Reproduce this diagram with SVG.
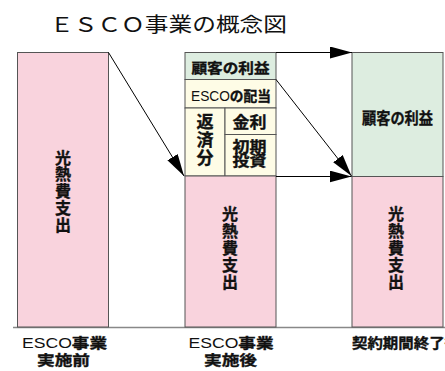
<svg xmlns="http://www.w3.org/2000/svg" width="445" height="371" viewBox="0 0 445 371">
<defs>
<marker id="ah" markerUnits="userSpaceOnUse" markerWidth="24" markerHeight="14" refX="22" refY="6" orient="auto">
<path d="M0,0 L22,6 L0,12 z" fill="#000"/>
</marker>
</defs>
<style>
.box{stroke:#555;stroke-width:1}
.pink{fill:#F9D3DD}
.green{fill:#DDEDE0}
.cream{fill:#FEFCE6}
.cjk{font-family:"Noto Sans CJK JP","Liberation Sans",sans-serif;fill:#111}
.b{font-weight:bold;stroke:#111;stroke-width:0.35}
.lat{font-family:"Liberation Sans","Noto Sans CJK JP",sans-serif;font-weight:normal;stroke:none}
.conn{stroke:#000;stroke-width:1;fill:none;marker-end:url(#ah)}
</style>
<rect width="445" height="371" fill="#fff"/>
<text class="cjk" x="50" y="32" font-size="20" textLength="237" lengthAdjust="spacingAndGlyphs">ＥＳＣＯ事業の概念図</text>

<g id="baseline">
<line x1="13" y1="327.5" x2="445" y2="327.5" stroke="#888" stroke-width="1.5"/>
</g>

<g id="before">
<rect class="box pink" x="17.5" y="52.5" width="91" height="274.5"/>
<text class="cjk b" font-size="16" text-anchor="middle"><tspan x="63" y="163.5">光</tspan><tspan x="63" dy="16.9">熱</tspan><tspan x="63" dy="16.9">費</tspan><tspan x="63" dy="16.9">支</tspan><tspan x="63" dy="16.9">出</tspan></text>
<text class="cjk b" x="22" y="348" font-size="14" textLength="85" lengthAdjust="spacingAndGlyphs"><tspan class="lat">ESCO</tspan>事業</text>
<text class="cjk b" x="37" y="365" font-size="14" textLength="53" lengthAdjust="spacingAndGlyphs">実施前</text>
</g>

<g id="after">
<rect class="box green" x="185" y="52.5" width="91" height="27"/>
<rect class="box cream" x="185" y="79.5" width="91" height="28.5"/>
<rect class="box cream" x="185" y="108" width="40" height="68"/>
<rect class="box cream" x="225" y="108" width="51" height="26.5"/>
<rect class="box cream" x="225" y="134.5" width="51" height="41.5"/>
<rect class="box pink" x="185" y="176" width="91" height="151"/>
<text class="cjk b" x="191.5" y="73" font-size="14" textLength="78" lengthAdjust="spacingAndGlyphs">顧客の利益</text>
<text class="cjk b" x="191" y="101" font-size="14" textLength="80" lengthAdjust="spacingAndGlyphs"><tspan class="lat">ESCO</tspan>の配当</text>
<text class="cjk b" font-size="17" text-anchor="middle"><tspan x="205" y="128">返</tspan><tspan x="205" dy="18">済</tspan><tspan x="205" dy="18">分</tspan></text>
<text class="cjk b" x="232.5" y="127.5" font-size="16" textLength="34" lengthAdjust="spacingAndGlyphs">金利</text>
<text class="cjk b" x="232.5" y="151.5" font-size="15" textLength="34" lengthAdjust="spacingAndGlyphs">初期</text>
<text class="cjk b" x="232.5" y="166" font-size="15" textLength="34" lengthAdjust="spacingAndGlyphs">投資</text>
<text class="cjk b" font-size="16" text-anchor="middle"><tspan x="230" y="220">光</tspan><tspan x="230" dy="17">熱</tspan><tspan x="230" dy="17">費</tspan><tspan x="230" dy="17">支</tspan><tspan x="230" dy="17">出</tspan></text>
<text class="cjk b" x="188.5" y="348" font-size="14" textLength="85" lengthAdjust="spacingAndGlyphs"><tspan class="lat">ESCO</tspan>事業</text>
<text class="cjk b" x="204" y="365" font-size="14" textLength="53" lengthAdjust="spacingAndGlyphs">実施後</text>
</g>

<g id="end">
<rect class="box green" x="352" y="52.5" width="91" height="124"/>
<rect class="box pink" x="352" y="176.5" width="91" height="150.5"/>
<text class="cjk b" x="362" y="124" font-size="16" textLength="71" lengthAdjust="spacingAndGlyphs">顧客の利益</text>
<text class="cjk b" font-size="16" text-anchor="middle"><tspan x="396" y="220">光</tspan><tspan x="396" dy="17">熱</tspan><tspan x="396" dy="17">費</tspan><tspan x="396" dy="17">支</tspan><tspan x="396" dy="17">出</tspan></text>
<text class="cjk b" x="352" y="348" font-size="14" textLength="108" lengthAdjust="spacingAndGlyphs">契約期間終了後</text>
</g>

<g id="connectors">
<line class="conn" x1="108.5" y1="52.5" x2="184" y2="176"/>
<line class="conn" x1="276" y1="52.5" x2="352" y2="52.5"/>
<line class="conn" x1="276" y1="79.5" x2="351.5" y2="176"/>
<line class="conn" x1="276" y1="176.5" x2="351.5" y2="176.5"/>
</g>
</svg>
